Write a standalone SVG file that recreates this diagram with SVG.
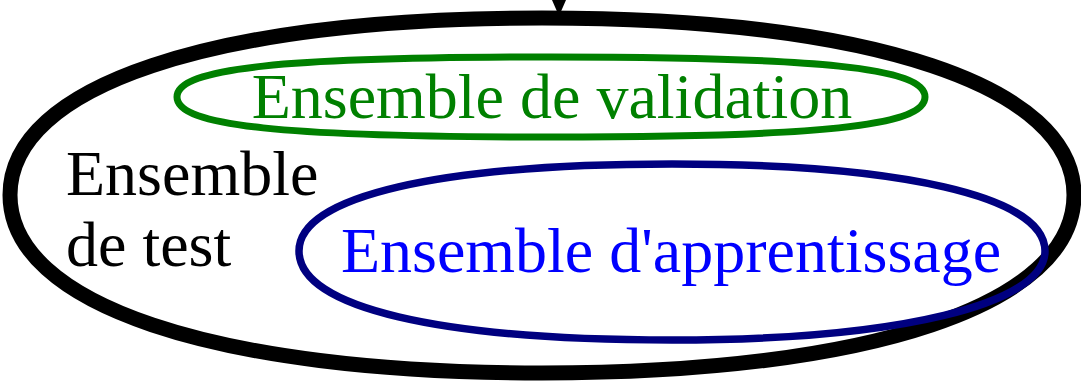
<svg xmlns="http://www.w3.org/2000/svg" width="1081" height="382" viewBox="0 0 1081 382">
<style>
.set{fill:none}
.lbl{font-family:"Liberation Serif","Times New Roman",serif;font-size:64px}
</style>
<rect width="1081" height="382" fill="#ffffff"/>
<g id="connectors">
<polygon points="552,0 566,0 559,16" fill="#000000"/>
</g>
<g id="test">
<path class="set" stroke="#000000" stroke-width="15" d="M10,195 C10,86 212,18 542,18 C872,18 1074,86 1074,195 C1074,304 872,373 542,373 C212,373 10,304 10,195 Z"/>
<text class="lbl" x="66" y="195" fill="#000000">Ensemble</text>
<text class="lbl" x="66" y="266" fill="#000000">de test</text>
</g>
<g id="validation">
<path class="set" stroke="#008000" stroke-width="7" d="M177,97 C177,68 282,57 551,57 C820,57 925,68 925,97 C925,126 820,137 551,137 C282,137 177,126 177,97 Z"/>
<text class="lbl" x="552" y="118" text-anchor="middle" fill="#008000">Ensemble de validation</text>
</g>
<g id="apprentissage">
<path class="set" stroke="#000080" stroke-width="7.5" d="M299,251 C299,196 440,164 672,164 C900,164 1045,196 1045,251 C1045,304 900,340 672,340 C440,340 299,308 299,251 Z"/>
<text class="lbl" x="671" y="272" text-anchor="middle" fill="#0000ff">Ensemble d'apprentissage</text>
</g>
</svg>
